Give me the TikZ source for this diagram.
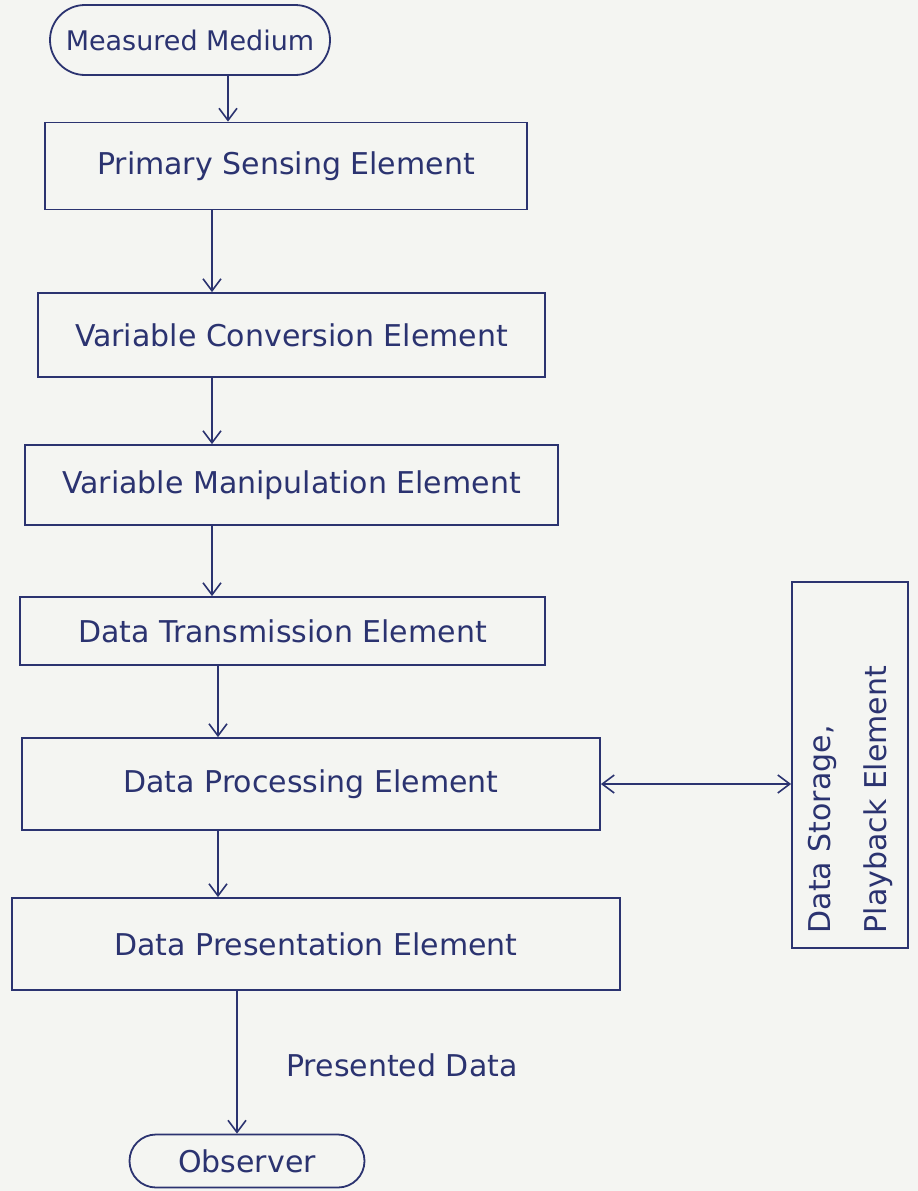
\documentclass[tikz,border=0pt]{standalone}
\usepackage{fontspec}
\setmainfont{DejaVu Sans}
\usetikzlibrary{arrows.meta,shapes.misc}
\definecolor{ink}{HTML}{2B3370}
\definecolor{paper}{HTML}{F4F5F2}
\begin{document}
\begin{tikzpicture}[x=1pt,y=-1pt,
  ink line/.style={draw=ink,line width=1.8pt},
  hand/.style={text=ink,font=\fontsize{30}{34}\selectfont},
  element/.style={ink line,rectangle,inner sep=0pt,hand},
  terminal/.style={ink line,rounded rectangle,inner sep=0pt,hand},
  flow/.style={ink line,-{Straight Barb[length=12pt,width=18pt,line width=1.6pt]}},
  both/.style={ink line,{Straight Barb[length=12pt,width=18pt,line width=1.6pt]}-{Straight Barb[length=12pt,width=18pt,line width=1.6pt]}}]
  % page
  \fill[paper] (0,0) rectangle (918,1191);
  \useasboundingbox (0,0) rectangle (918,1191);

  % chain of elements
  \node[terminal,minimum width=280pt,minimum height=70pt,font=\fontsize{27}{30}\selectfont] (medium) at (190,40) {Measured Medium};
  \node[element,minimum width=482pt,minimum height=87pt] (psense) at (286,166) {Primary Sensing Element};
  \node[element,minimum width=507pt,minimum height=84pt] (vconv) at (291.5,335) {Variable Conversion Element};
  \node[element,minimum width=533pt,minimum height=80pt] (vmanip) at (291.5,485) {Variable Manipulation Element};
  \node[element,minimum width=525pt,minimum height=68pt] (dtrans) at (282.5,631) {Data Transmission Element};
  \node[element,minimum width=578pt,minimum height=92pt] (dproc) at (311,784) {Data Processing Element};
  \node[element,minimum width=608pt,minimum height=92pt] (dpres) at (316,944) {Data Presentation Element};
  \node[terminal,minimum width=235pt,minimum height=53pt] (observer) at (247,1161) {Observer};

  % side store
  \node[element,minimum width=116pt,minimum height=366pt] (store) at (850,765) {};
  \node[hand,rotate=90,align=left,font=\fontsize{30}{56}\selectfont,anchor=west] (storetext) at ([yshift=12pt]store.south) {Data Storage,\\Playback Element};

  \node[hand] (presented) at (402,1065) {Presented Data};

  % connectors
  \draw[flow] ([xshift=38pt]medium.south) -- ([xshift=38pt]medium.south |- psense.north);
  \draw[flow] ([xshift=-74pt]psense.south) -- ([xshift=-74pt]psense.south |- vconv.north);
  \draw[flow] ([xshift=-79.5pt]vconv.south) -- ([xshift=-79.5pt]vconv.south |- vmanip.north);
  \draw[flow] ([xshift=-79.5pt]vmanip.south) -- ([xshift=-79.5pt]vmanip.south |- dtrans.north);
  \draw[flow] ([xshift=-64.5pt]dtrans.south) -- ([xshift=-64.5pt]dtrans.south |- dproc.north);
  \draw[flow] ([xshift=-93pt]dproc.south) -- ([xshift=-93pt]dproc.south |- dpres.north);
  \draw[flow] ([xshift=-79pt]dpres.south) -- ([xshift=-79pt]dpres.south |- observer.north);
  \draw[both] (dproc.east) -- (dproc.east -| store.west);
\end{tikzpicture}
\end{document}
